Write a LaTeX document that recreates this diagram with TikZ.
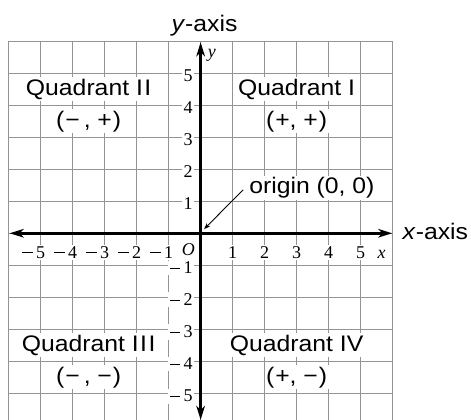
\documentclass[tikz,border=0pt]{standalone}
\usepackage{fontspec}
\setmainfont{Liberation Serif}
\newfontfamily\labfont[FakeStretch=1.1]{Liberation Sans}
\newcommand\negsign{\kern0.3pt\rule[5.2pt]{10.5pt}{1.1pt}\kern3.2pt}
\usetikzlibrary{arrows.meta}
\begin{document}
\begin{tikzpicture}[x=32pt,y=32pt,
  gridline/.style={draw=black!42, line width=1.2pt},
  axisline/.style={line width=3pt, {Stealth[length=14pt,width=8.5pt,inset=4pt]}-{Stealth[length=14pt,width=8.5pt,inset=4pt]}},
  leader/.style={line width=0.9pt, -{Stealth[length=6pt,width=4.5pt,inset=1.5pt]}},
  quad/.style={font=\labfont\fontsize{22.5}{24}\selectfont, fill=white, inner sep=1.5pt},
  axlab/.style={font=\labfont\fontsize{22.5}{24}\selectfont, inner sep=0pt},
  num/.style={font=\fontsize{18}{19}\selectfont, fill=white, inner sep=1.5pt},
]
\useasboundingbox (-6.27,-5.834) rectangle (8.45,7.29);
\begin{scope}
\clip (-6.27,-5.834) rectangle (8.45,7.29);
% grid
\foreach \i in {-6,...,6} \draw[gridline] (\i,-6.2) -- (\i,6);
\foreach \j in {-5,...,6} \draw[gridline] (-6,\j) -- (6,\j);
% axes
\coordinate (xl) at (-5.97,0);
\coordinate (xr) at (5.99,0);
\coordinate (yb) at (0,-5.834);
\coordinate (yt) at (0,5.97);
\draw[axisline] (xl) -- (xr);
\draw[axisline] (yb) -- (yt);
\end{scope}
% y-axis numbers
\foreach \k in {1,...,5} \node[num, anchor=base east] (yn\k) at (-0.2,\k-0.27) {\k};
\foreach \k in {1,...,5} \node[num, anchor=base east] (ym\k) at (-0.2,-\k-0.27) {\negsign\k};
\node[num, anchor=base, fill=none, font=\fontsize{18}{19}\selectfont\itshape] (yv) at (0.35,5.48) {y};
% x-axis numbers
\foreach \k in {1,...,5} \node[num, anchor=base] (xn\k) at (\k,-0.78) {\k};
\foreach \k in {1,...,5} \node[num, anchor=base] (xm\k) at (-\k,-0.78) {\llap{\negsign}\k};
\node[num, anchor=base east, inner sep=0.5pt, font=\fontsize{18}{19}\selectfont\itshape] (O) at (-0.16,-0.69) {O};
\node[num, anchor=base, font=\fontsize{18}{19}\selectfont\itshape] (xv) at (5.66,-0.78) {x};
% axis names
\node[axlab, anchor=base] (yaxis) at (0.12,6.32) {\textit{y}-axis};
\node[axlab, anchor=base west] (xaxis) at (6.31,-0.21) {\textit{x}-axis};
% quadrants
\node[quad] (q2) at (-3.5,4.5) {Quadrant I\kern1.5pt I};
\node[quad] (q2s) at (-3.5,3.5) {(\kern1pt−\kern4pt, +\kern1pt)};
\node[quad] (q1) at (3,4.5) {Quadrant I};
\node[quad] (q1s) at (3,3.5) {(\kern1pt+, +\kern1pt)};
\node[quad] (q3) at (-3.5,-3.5) {Quadrant I\kern1.5pt I\kern1.5pt I};
\node[quad] (q3s) at (-3.5,-4.5) {(\kern1pt−\kern4pt, −\kern1pt)};
\node[quad] (q4) at (3,-3.5) {Quadrant IV};
\node[quad] (q4s) at (3,-4.5) {(\kern1pt+, −\kern1pt)};
% origin
\node[quad, anchor=base west] (orig) at (1.47,1.23) {origin (0, 0)};
\coordinate (lead) at (1.33,1.36);
\coordinate (otip) at (0.11,0.13);
\draw[leader] (lead) -- (otip);
\end{tikzpicture}
\end{document}
